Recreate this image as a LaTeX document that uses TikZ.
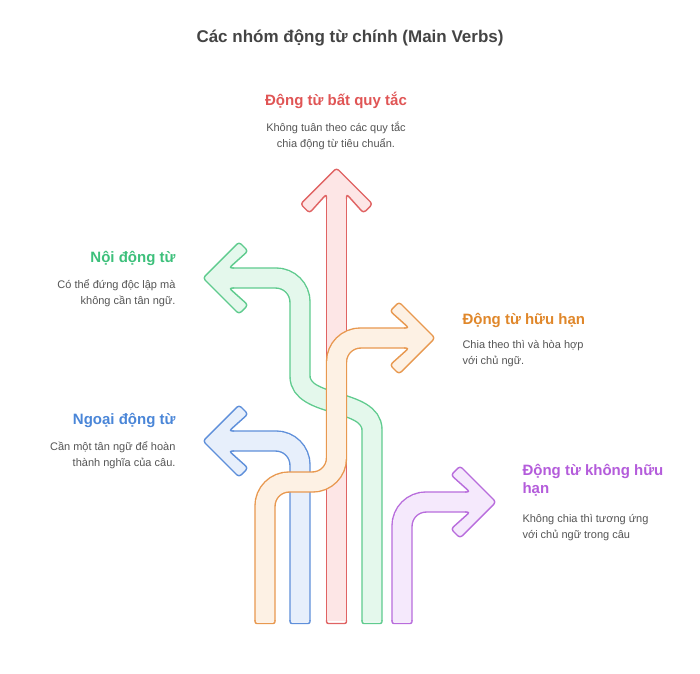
\documentclass[tikz,border=0pt]{standalone}
\usepackage{fontspec}
\setmainfont{Liberation Sans}
\definecolor{rS}{HTML}{E06363}\definecolor{rF}{HTML}{FDE6E6}
\definecolor{gS}{HTML}{5FCB8E}\definecolor{gF}{HTML}{E4F8EC}
\definecolor{bS}{HTML}{5E8FDA}\definecolor{bF}{HTML}{E7EFFB}
\definecolor{oS}{HTML}{E8984F}\definecolor{oF}{HTML}{FDF1E4}
\definecolor{pS}{HTML}{B86CDC}\definecolor{pF}{HTML}{F5E9FC}
\definecolor{rT}{HTML}{E05555}\definecolor{gT}{HTML}{3DC07B}
\definecolor{bT}{HTML}{4A86D8}\definecolor{oT}{HTML}{E0872A}
\definecolor{pT}{HTML}{B45CDB}\definecolor{dT}{HTML}{555555}
\tikzset{
 shaft/.style n args={2}{draw=#1,double=#2,line width=1.4pt,double distance=18.6pt},
 rc/.style={rounded corners=24pt},
 ttl/.style={font=\bfseries\fontsize{15}{18}\selectfont},
 dsc/.style={font=\fontsize{11}{16}\selectfont,text=dT},
}
\newcommand{\ahead}[4]{%
 \begin{scope}[shift={(#1,#2)},rotate=#3]
  \fill[#4F,rounded corners=3pt] (0,0)--(-36,-36)--(-45,-27)--(-27,-9.3)--(-32,-9.3)--(-32,9.3)--(-27,9.3)--(-45,27)--(-36,36)--cycle;
  \draw[#4S,line width=1.4pt,rounded corners=3pt,line join=round] (-31,-10)--(-26,-10)--(-45,-27)--(-36,-36)--(0,0)--(-36,36)--(-45,27)--(-26,10)--(-31,10);
 \end{scope}}
\newcommand{\acap}[2]{\draw[#2S,line width=1.4pt,rounded corners=2pt] (#1-10,620)--(#1-10,623.5)--(#1+10,623.5)--(#1+10,620);}
\begin{document}
\begin{tikzpicture}[x=1pt,y=-1pt]
\useasboundingbox[fill=white] (0,0) rectangle (700,673);
\node[font=\bfseries\fontsize{17}{20}\selectfont,text=dT!80!black] (title) at (350,38) {Các nhóm động từ chính (Main Verbs)};
% red
\coordinate (r0) at (336.5,621); \coordinate (r1) at (336.5,195);
\draw[shaft={rS}{rF}] (r0)--(r1); \acap{336.5}{r} \ahead{336.5}{168}{90}{r}
% green
\draw[shaft={gS}{gF}] (372,621)--(372,430) .. controls (372,398) and (300,408) .. (300,376) -- (300,302) .. controls (300,288.8) and (289.2,278) .. (276,278) -- (231,278);
\acap{372}{g} \ahead{203}{278}{180}{g}
% blue
\draw[shaft={bS}{bF},rc] (300,621)--(300,441)--(231,441);
\acap{300}{b} \ahead{203}{441}{180}{b}
% purple
\draw[shaft={pS}{pF},rc] (402,621)--(402,502)--(468,502);
\acap{402}{p} \ahead{496}{502}{0}{p}
% orange
\draw[shaft={oS}{oF},rc] (265,621)--(265,482)--(336.5,482)--(336.5,338)--(407,338);
\acap{265}{o} \ahead{435}{338}{0}{o}
% texts
\node[ttl,text=rT] (t1) at (336,100) {Động từ bất quy tắc};
\node[dsc,align=center] (d1) at (336,136) {Không tuân theo các quy tắc\\chia động từ tiêu chuẩn.};
\node[ttl,text=gT,anchor=east] (t2) at (179,258) {Nội động từ};
\node[dsc,align=right,anchor=north east] (d2) at (179,276) {Có thể đứng độc lập mà\\không cần tân ngữ.};
\node[ttl,text=oT,anchor=west] (t3) at (459,320) {Động từ hữu hạn};
\node[dsc,align=left,anchor=north west] (d3) at (459,337) {Chia theo thì và hòa hợp\\với chủ ngữ.};
\node[ttl,text=bT,anchor=east] (t4) at (179,420) {Ngoại động từ};
\node[dsc,align=right,anchor=north east] (d4) at (179,438) {Cần một tân ngữ để hoàn\\thành nghĩa của câu.};
\node[ttl,text=pT,anchor=north west,align=left] (t5) at (519,461) {Động từ không hữu\\hạn};
\node[dsc,align=left,anchor=north west] (d5) at (519,511) {Không chia thì tương ứng\\với chủ ngữ trong câu};
\end{tikzpicture}
\end{document}
